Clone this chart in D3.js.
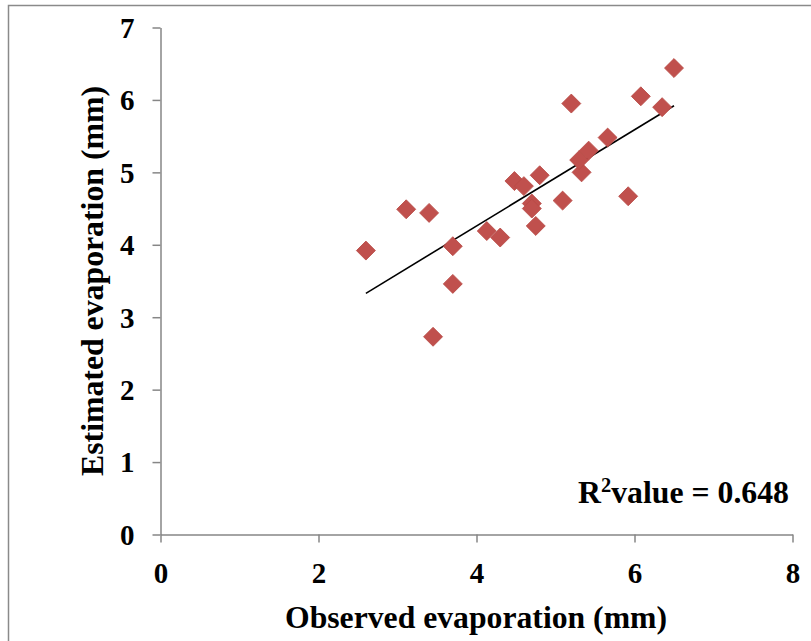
<!DOCTYPE html>
<html>
<head>
<meta charset="utf-8">
<script src="https://cdn.jsdelivr.net/npm/d3@7"></script>
<style>
  html, body { margin: 0; padding: 0; background: #fff; }
</style>
</head>
<body>
<div id="chart"></div>
<script>
// Observed vs estimated evaporation (mm).
const observed = [2.60, 3.11, 3.40, 3.70, 3.70, 3.45, 4.13, 4.30, 4.48, 4.60, 4.80, 4.70,
  4.70, 4.75, 5.09, 5.20, 5.33, 5.30, 5.42, 5.66, 5.92, 6.08, 6.35, 6.50];
const estimated = [3.92, 4.49, 4.44, 3.98, 3.46, 2.73, 4.19, 4.10, 4.88, 4.81, 4.96, 4.57,
  4.50, 4.26, 4.61, 5.95, 5.00, 5.17, 5.30, 5.48, 4.67, 6.05, 5.90, 6.44];

// Linear trend line end points.
const trendX = [2.6, 6.5];
const trendY = [3.33, 5.92];

const xTicks = [0, 2, 4, 6, 8];
const yTicks = [0, 1, 2, 3, 4, 5, 6, 7];

const width = 811, height = 641;
const margins = { top: 27.5, right: 18.5, bottom: 106.5, left: 160.5 };
const axisColor = '#868686';
const font = '"Liberation Serif", "Times New Roman", serif';

const svg = d3.select('#chart')
  .append('svg')
    .attr('width', width)
    .attr('height', height);

svg.append('rect')
  .attr('width', width)
  .attr('height', height)
  .attr('fill', '#fff');

// outer chart frame (only top and left edges are visible)
svg.append('path')
  .attr('d', `M8.5,${height} V5.5 H${width}`)
  .attr('fill', 'none')
  .attr('stroke', '#8a8a8a')
  .attr('stroke-width', 1.5);

const x = d3.scaleLinear()
  .domain([0, 8])
  .range([margins.left, width - margins.right]);

const y = d3.scaleLinear()
  .domain([0, 7])
  .range([height - margins.bottom, margins.top]);

const xAxis = d3.axisBottom(x).tickValues(xTicks).tickFormat(d3.format('d'))
  .tickSize(8).tickSizeOuter(0);
const yAxis = d3.axisLeft(y).tickValues(yTicks).tickFormat(d3.format('d'))
  .tickSize(8).tickSizeOuter(0);

const gx = svg.append('g')
  .attr('transform', `translate(0, ${y(0)})`)
  .call(xAxis);

const gy = svg.append('g')
  .attr('transform', `translate(${x(0)}, 0)`)
  .call(yAxis);

for (const g of [gx, gy]) {
  g.select('.domain').attr('stroke', axisColor).attr('stroke-width', 1.5);
  g.selectAll('.tick line').attr('stroke', axisColor).attr('stroke-width', 1.5);
  g.selectAll('.tick text')
    .attr('fill', '#000')
    .attr('font-family', font)
    .attr('font-weight', 'bold')
    .attr('font-size', '29px');
}

gx.selectAll('.tick text')
  .attr('y', 48)
  .attr('dy', 0);

gy.selectAll('.tick text')
  .attr('x', -26)
  .attr('dy', '0.34em');

// trend line
svg.append('line')
  .attr('x1', x(trendX[0]))
  .attr('y1', y(trendY[0]))
  .attr('x2', x(trendX[1]))
  .attr('y2', y(trendY[1]))
  .attr('stroke', '#000')
  .attr('stroke-width', 1.6);

// diamond markers
const diamond = d3.symbol().type(d3.symbolSquare).size(180);

svg.append('g')
  .selectAll('path')
  .data(observed.map((o, i) => ({ x: o, y: estimated[i] })))
  .enter()
  .append('path')
    .attr('d', diamond)
    .attr('transform', d => `translate(${x(d.x)}, ${y(d.y)}) rotate(45)`)
    .attr('fill', '#C0504D')
    .attr('stroke', '#B84A46')
    .attr('stroke-width', 0.8);

// axis titles
svg.append('text')
  .attr('x', 476)
  .attr('y', 628)
  .attr('text-anchor', 'middle')
  .attr('font-family', font)
  .attr('font-weight', 'bold')
  .attr('font-size', '31px')
  .attr('textLength', 382)
  .attr('lengthAdjust', 'spacingAndGlyphs')
  .text('Observed evaporation (mm)');

svg.append('text')
  .attr('transform', 'translate(103, 281) rotate(-90)')
  .attr('text-anchor', 'middle')
  .attr('font-family', font)
  .attr('font-weight', 'bold')
  .attr('font-size', '31px')
  .attr('textLength', 390)
  .attr('lengthAdjust', 'spacingAndGlyphs')
  .text('Estimated evaporation (mm)');

// R squared annotation
const r2 = svg.append('text')
  .attr('x', 578)
  .attr('y', 503)
  .attr('font-family', font)
  .attr('font-weight', 'bold')
  .attr('font-size', '31px')
  .attr('textLength', 211)
  .attr('lengthAdjust', 'spacingAndGlyphs');

r2.append('tspan').text('R');
r2.append('tspan')
  .attr('font-size', '20px')
  .attr('dy', -11)
  .text('2');
r2.append('tspan')
  .attr('dy', 11)
  .text('value = 0.648');
</script>
</body>
</html>
